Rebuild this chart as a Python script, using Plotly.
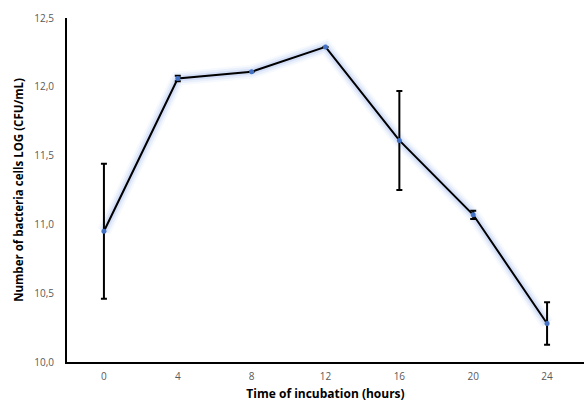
import plotly.graph_objects as go

hours = [0, 4, 8, 12, 16, 20, 24]
log_cfu = [10.95, 12.06, 12.11, 12.29, 11.61, 11.07, 10.28]
err = [0.49, 0.02, 0.0, 0.0, 0.36, 0.03, 0.155]
x_ticks = [0, 4, 8, 12, 16, 20, 24]
y_ticks = [10.0, 10.5, 11.0, 11.5, 12.0, 12.5]
y_tick_labels = ["10,0", "10,5", "11,0", "11,5", "12,0", "12,5"]

fig = go.Figure()

# glow layers
for w, a in [(14, 0.08), (10, 0.12), (6, 0.22)]:
    fig.add_trace(go.Scatter(x=hours, y=log_cfu, mode="lines",
                             line=dict(color=f"rgba(140,175,235,{a})", width=w),
                             hoverinfo="skip", showlegend=False))

fig.add_trace(go.Scatter(
    x=hours, y=log_cfu, mode="lines+markers",
    line=dict(color="black", width=2),
    marker=dict(color="#4472C4", size=5, symbol="circle"),
    error_y=dict(type="data", array=err, visible=True, color="black",
                 thickness=2, width=3),
    showlegend=False))

fig.update_layout(
    width=584, height=409,
    margin=dict(l=67, r=0, t=18, b=47, autoexpand=False),
    paper_bgcolor="white", plot_bgcolor="white",
    font=dict(family="Open Sans, Liberation Sans, sans-serif"),
    xaxis=dict(range=[-2, 26], tickvals=x_ticks, ticktext=[str(v) for v in x_ticks],
               automargin=False,
               showgrid=False, zeroline=False, showline=True, linecolor="black", linewidth=2,
               ticks="outside", ticklen=4, tickcolor="rgba(0,0,0,0)",
               tickfont=dict(size=10, color="#595959"),
               title=dict(text="<b>Time of incubation (hours)</b>",
                          font=dict(size=12, color="black"), standoff=8)),
    yaxis=dict(range=[10.0, 12.5], tickvals=y_ticks, ticktext=y_tick_labels,
               automargin=False,
               showgrid=False, zeroline=False, showline=True, linecolor="black", linewidth=2,
               ticks="outside", ticklen=9, tickcolor="rgba(0,0,0,0)",
               tickfont=dict(size=10, color="#595959"),
               title=dict(text="<b>Number of bacteria cells LOG (CFU/mL)</b>",
                          font=dict(size=11.5, color="black"), standoff=8)),
)

fig.write_html("out.html", config={"displayModeBar": False},
               post_script="document.body.style.margin='0';")
